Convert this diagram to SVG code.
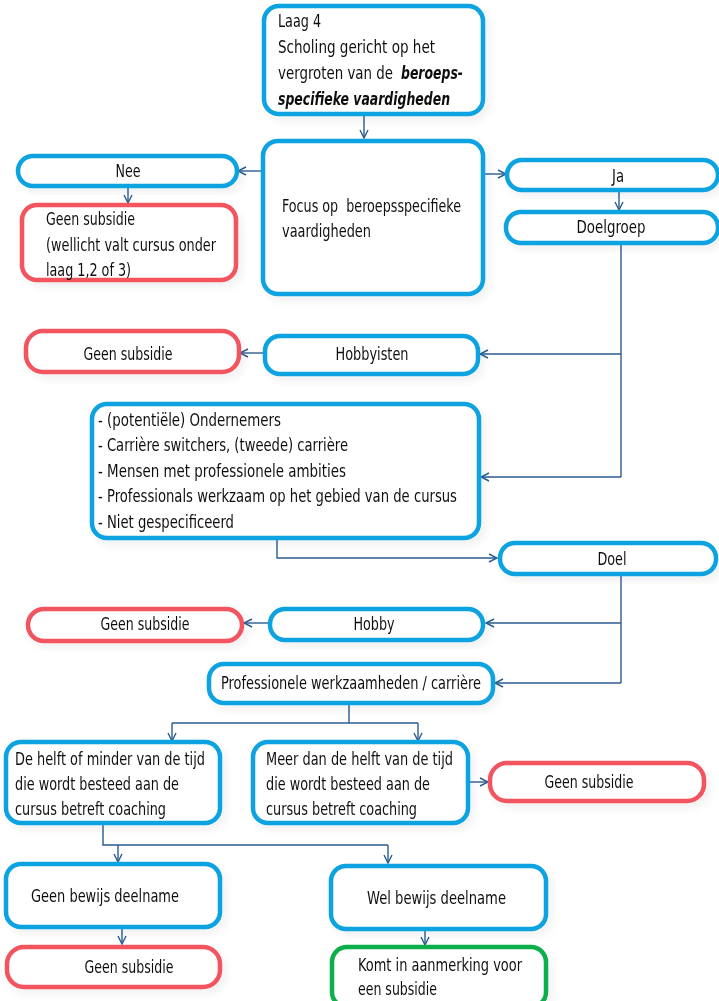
<svg xmlns="http://www.w3.org/2000/svg" width="719" height="1001" viewBox="0 0 719 1001">
<defs>
<style>
.b{fill:#fff;stroke:#0AA3E0;stroke-width:4.5}
.r{fill:#fff;stroke:#F2555F;stroke-width:4.5}
.g{fill:#fff;stroke:#0FAF4B;stroke-width:4.5}
.c{fill:none;stroke:#2A5C91;stroke-width:1.4}
.a{fill:none;stroke:#2A5C91;stroke-width:1.4;marker-end:url(#ah)}
text{font-family:"Liberation Sans Narrow","DejaVu Sans Condensed","Liberation Sans",sans-serif;font-size:18px;fill:#111}
.m{text-anchor:middle}
.bi{font-weight:bold;font-style:italic}
</style>
<marker id="ah" viewBox="0 0 10 10" refX="9" refY="5" markerWidth="10" markerHeight="10" markerUnits="userSpaceOnUse" orient="auto">
<path d="M1,1 L9,5 L1,9" fill="none" stroke="#2A5C91" stroke-width="1.4"/>
</marker>
<filter id="sh" x="-10%" y="-20%" width="125%" height="150%">
<feGaussianBlur in="SourceAlpha" stdDeviation="5"/>
<feOffset dx="4" dy="5"/>
<feComponentTransfer><feFuncA type="linear" slope="0.06"/></feComponentTransfer>
<feMerge><feMergeNode/><feMergeNode in="SourceGraphic"/></feMerge>
</filter>
</defs>
<rect width="719" height="1001" fill="#fff"/>

<g id="connectors">
<path class="a" d="M364,115 V138"/>
<path class="a" d="M263,171 H238"/>
<path class="a" d="M128,187 V203"/>
<path class="a" d="M483,174 H506"/>
<path class="a" d="M619,191 V210"/>
<path class="c" d="M621,243 V477"/>
<path class="a" d="M621,354 H480"/>
<path class="a" d="M621,477 H481"/>
<path class="a" d="M265,353 H240"/>
<path class="a" d="M277,538 V558 H497"/>
<path class="c" d="M621,575 V683"/>
<path class="a" d="M621,623 H486"/>
<path class="a" d="M621,683 H495"/>
<path class="a" d="M268,623 H244"/>
<path class="c" d="M349,703 V723"/>
<path class="c" d="M172,723 H418"/>
<path class="a" d="M172,723 V741"/>
<path class="a" d="M418,723 V741"/>
<path class="a" d="M468,782 H488"/>
<path class="c" d="M103,823 V845 H388"/>
<path class="a" d="M118,845 V862"/>
<path class="a" d="M388,845 V863"/>
<path class="a" d="M122,927 V944"/>
<path class="a" d="M425,929 V945"/>
</g>

<g id="n-laag4" filter="url(#sh)">
<rect class="b" x="264" y="6" width="219" height="108" rx="15"/>
<text x="278" y="27" textLength="43" lengthAdjust="spacingAndGlyphs">Laag 4</text>
<text x="278" y="53" textLength="157" lengthAdjust="spacingAndGlyphs">Scholing gericht op het</text>
<text x="278" y="79" textLength="115" lengthAdjust="spacingAndGlyphs">vergroten van de</text>
<text class="bi" x="401" y="79" textLength="62" lengthAdjust="spacingAndGlyphs">beroeps-</text>
<text class="bi" x="278" y="105" textLength="172" lengthAdjust="spacingAndGlyphs">specifieke vaardigheden</text>
</g>

<g id="n-focus" filter="url(#sh)">
<rect class="b" x="263" y="141" width="220" height="153" rx="15"/>
<text x="282" y="212" textLength="179" lengthAdjust="spacingAndGlyphs" xml:space="preserve">Focus op  beroepsspecifieke</text>
<text x="282" y="237" textLength="89" lengthAdjust="spacingAndGlyphs">vaardigheden</text>
</g>

<g id="n-nee" filter="url(#sh)">
<rect class="b" x="18" y="156" width="219" height="30" rx="15"/>
<text class="m" x="128" y="177" textLength="25" lengthAdjust="spacingAndGlyphs">Nee</text>
</g>

<g id="n-geen1" filter="url(#sh)">
<rect class="r" x="22" y="205" width="214" height="75" rx="15"/>
<text x="46" y="225" textLength="89" lengthAdjust="spacingAndGlyphs">Geen subsidie</text>
<text x="46" y="251" textLength="170" lengthAdjust="spacingAndGlyphs">(wellicht valt cursus onder</text>
<text x="46" y="276" textLength="85" lengthAdjust="spacingAndGlyphs">laag 1,2 of 3)</text>
</g>

<g id="n-ja" filter="url(#sh)">
<rect class="b" x="507" y="160" width="211" height="30" rx="15"/>
<text class="m" x="618" y="182" textLength="12" lengthAdjust="spacingAndGlyphs">Ja</text>
</g>

<g id="n-doelgroep" filter="url(#sh)">
<rect class="b" x="506" y="212" width="212" height="31" rx="15"/>
<text class="m" x="611" y="233" textLength="69" lengthAdjust="spacingAndGlyphs">Doelgroep</text>
</g>

<g id="n-geen2" filter="url(#sh)">
<rect class="r" x="26" y="331" width="213" height="41" rx="17"/>
<text class="m" x="128" y="360" textLength="89" lengthAdjust="spacingAndGlyphs">Geen subsidie</text>
</g>

<g id="n-hobbyisten" filter="url(#sh)">
<rect class="b" x="265" y="336" width="213" height="38" rx="15"/>
<text class="m" x="372" y="360" textLength="73" lengthAdjust="spacingAndGlyphs">Hobbyisten</text>
</g>

<g id="n-lijst" filter="url(#sh)">
<rect class="b" x="92" y="404" width="387" height="134" rx="15"/>
<text x="98" y="426" textLength="183" lengthAdjust="spacingAndGlyphs">- (potentiële) Ondernemers</text>
<text x="98" y="451" textLength="250" lengthAdjust="spacingAndGlyphs">- Carrière switchers, (tweede) carrière</text>
<text x="98" y="477" textLength="248" lengthAdjust="spacingAndGlyphs">- Mensen met professionele ambities</text>
<text x="98" y="502" textLength="359" lengthAdjust="spacingAndGlyphs">- Professionals werkzaam op het gebied van de cursus</text>
<text x="98" y="528" textLength="136" lengthAdjust="spacingAndGlyphs">- Niet gespecificeerd</text>
</g>

<g id="n-doel" filter="url(#sh)">
<rect class="b" x="500" y="543" width="216" height="31" rx="15"/>
<text class="m" x="612" y="565" textLength="29" lengthAdjust="spacingAndGlyphs">Doel</text>
</g>

<g id="n-geen3" filter="url(#sh)">
<rect class="r" x="28" y="609" width="214" height="32" rx="16"/>
<text class="m" x="145" y="630" textLength="89" lengthAdjust="spacingAndGlyphs">Geen subsidie</text>
</g>

<g id="n-hobby" filter="url(#sh)">
<rect class="b" x="270" y="609" width="213" height="31" rx="15"/>
<text class="m" x="374" y="630" textLength="41" lengthAdjust="spacingAndGlyphs">Hobby</text>
</g>

<g id="n-prof" filter="url(#sh)">
<rect class="b" x="209" y="664" width="284" height="39" rx="15"/>
<text class="m" x="351" y="689" textLength="260" lengthAdjust="spacingAndGlyphs">Professionele werkzaamheden / carrière</text>
</g>

<g id="n-helft" filter="url(#sh)">
<rect class="b" x="6" y="742" width="214" height="81" rx="15"/>
<text x="15" y="765" textLength="190" lengthAdjust="spacingAndGlyphs">De helft of minder van de tijd</text>
<text x="15" y="790" textLength="164" lengthAdjust="spacingAndGlyphs">die wordt besteed aan de</text>
<text x="15" y="815" textLength="151" lengthAdjust="spacingAndGlyphs">cursus betreft coaching</text>
</g>

<g id="n-meer" filter="url(#sh)">
<rect class="b" x="253" y="742" width="215" height="81" rx="15"/>
<text x="266" y="765" textLength="187" lengthAdjust="spacingAndGlyphs">Meer dan de helft van de tijd</text>
<text x="266" y="790" textLength="164" lengthAdjust="spacingAndGlyphs">die wordt besteed aan de</text>
<text x="266" y="815" textLength="151" lengthAdjust="spacingAndGlyphs">cursus betreft coaching</text>
</g>

<g id="n-geen4" filter="url(#sh)">
<rect class="r" x="490" y="763" width="214" height="38" rx="17"/>
<text class="m" x="589" y="788" textLength="89" lengthAdjust="spacingAndGlyphs">Geen subsidie</text>
</g>

<g id="n-geenbewijs" filter="url(#sh)">
<rect class="b" x="6" y="864" width="214" height="63" rx="15"/>
<text x="31" y="902" textLength="148" lengthAdjust="spacingAndGlyphs">Geen bewijs deelname</text>
</g>

<g id="n-welbewijs" filter="url(#sh)">
<rect class="b" x="331" y="866" width="215" height="63" rx="15"/>
<text x="367" y="904" textLength="139" lengthAdjust="spacingAndGlyphs">Wel bewijs deelname</text>
</g>

<g id="n-geen5" filter="url(#sh)">
<rect class="r" x="7" y="947" width="213" height="40" rx="17"/>
<text class="m" x="129" y="973" textLength="89" lengthAdjust="spacingAndGlyphs">Geen subsidie</text>
</g>

<g id="n-komt" filter="url(#sh)">
<rect class="g" x="332" y="947" width="214" height="60" rx="15"/>
<text x="358" y="971" textLength="164" lengthAdjust="spacingAndGlyphs">Komt in aanmerking voor</text>
<text x="358" y="995" textLength="79" lengthAdjust="spacingAndGlyphs">een subsidie</text>
</g>
</svg>
